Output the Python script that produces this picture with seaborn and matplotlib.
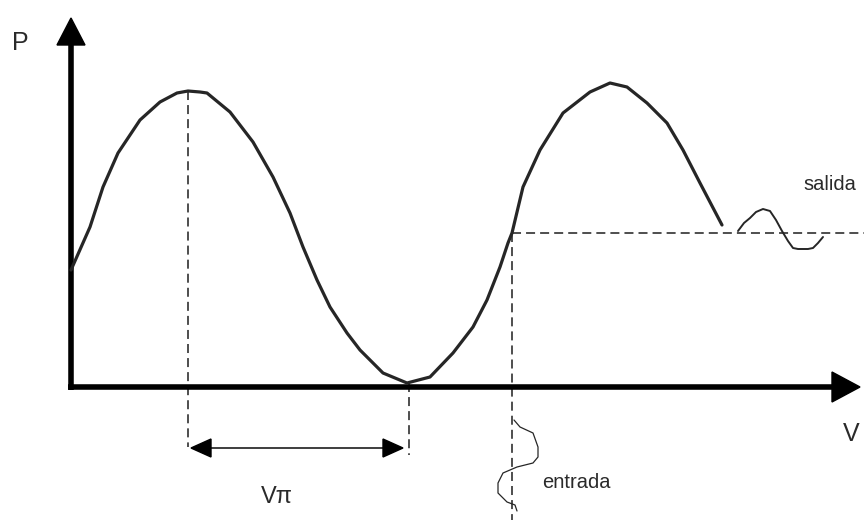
import matplotlib
matplotlib.use("Agg")
import matplotlib.pyplot as plt
from matplotlib.patches import Polygon
import seaborn as sns

# Transfer curve P(V) of the modulator (arbitrary units)
curve_v = [0, 19, 32, 47, 69, 89, 106, 117, 129, 136, 159, 182, 202, 219, 232,
           246, 259, 276, 289, 312, 336, 359, 382, 402, 416, 429, 437, 441, 452,
           469, 492, 519, 539, 556, 576, 596, 612, 629, 651]
curve_p = [117, 160, 200, 234, 267, 285, 294, 296, 295, 294, 275, 245, 210, 174,
           140, 107, 80, 54, 37, 14, 4, 10, 34, 60, 87, 120, 144, 154, 200, 237,
           274, 295, 304, 300, 284, 264, 237, 204, 162]

# Key voltages: maximum, minimum and bias point
v_max, p_max = 117, 296
v_min, p_min = 338, 4
v_bias, p_bias = 441, 154

# Output signal (salida) riding on the bias level
out_t = [667, 673, 679, 685, 692, 699, 705, 711, 717, 722, 727, 737, 742, 747, 752]
out_p = [156, 164, 169, 175, 178, 176, 167, 156, 146, 139, 138, 138, 139, 144, 150]

# Input signal (entrada) drawn along the voltage direction below the axis
in_v = [443, 449, 462, 467, 467, 462, 446, 432, 427, 427, 436, 444, 446]
in_t = [-33, -40, -46, -60, -70, -76, -80, -86, -96, -106, -115, -118, -124]

sns.set_theme(style="white")
plt.rcParams["font.family"] = ["Liberation Sans", "DejaVu Sans"]

fig = plt.figure(figsize=(8.64, 5.2), dpi=100)
ax = fig.add_axes([0, 0, 1, 1])
ax.set_xlim(-71, 793)
ax.set_ylim(-133, 387)
ax.axis("off")

ink = "#1e1e1e"
dash = (0, (5.9, 3.3))

# Axes with filled arrow heads
ax.plot([0, 0], [-3, 345], color="black", lw=4.0, solid_capstyle="butt", zorder=3)
ax.plot([-3, 763], [0, 0], color="black", lw=4.0, solid_capstyle="butt", zorder=3)
ax.add_patch(Polygon([[0, 369], [-14, 342], [14, 342]], closed=True,
                     color="black", zorder=4))
ax.add_patch(Polygon([[789, 0], [761, 15], [761, -15]], closed=True,
                     color="black", zorder=4))

# Transfer curve
sns.lineplot(x=curve_v, y=curve_p, ax=ax, sort=False, estimator=None,
             color="#262626", lw=2.3, zorder=5)

# Dashed guides
ax.plot([v_max, v_max], [p_max, -60], color=ink, lw=1.1, ls=dash, zorder=2)
ax.plot([v_min, v_min], [p_min, -68], color=ink, lw=1.1, ls=dash, zorder=2)
ax.plot([v_bias, v_bias], [p_bias, -133], color=ink, lw=1.1, ls=dash, zorder=2)
ax.plot([v_bias, 793], [p_bias, p_bias], color=ink, lw=1.1, ls=dash, zorder=2)

# V-pi double arrow
y_arr = -61
ax.plot([v_max + 16, v_min - 20], [y_arr, y_arr], color=ink, lw=1.2, zorder=3)
ax.add_patch(Polygon([[v_max + 3, y_arr], [v_max + 23, y_arr + 9],
                      [v_max + 23, y_arr - 9]], closed=True, color="black", zorder=4))
ax.add_patch(Polygon([[v_min - 6, y_arr], [v_min - 26, y_arr + 9],
                      [v_min - 26, y_arr - 9]], closed=True, color="black", zorder=4))

# Input and output signals
sns.lineplot(x=out_t, y=out_p, ax=ax, sort=False, estimator=None,
             color="#262626", lw=1.4, zorder=5)
sns.lineplot(x=in_v, y=in_t, ax=ax, sort=False, estimator=None,
             color="#262626", lw=0.9, zorder=5)

# Labels
txt = "#2a2a2a"
ax.text(-51, 344, "P", fontsize=18, color=txt, ha="center", va="center")
ax.text(780, -47, "V", fontsize=18, color=txt, ha="center", va="center")
ax.text(206, -110, "V\u03c0", fontsize=17, color=txt, ha="center", va="center")
ax.text(471, -95, "entrada", fontsize=14.5, color=txt, ha="left", va="center")
ax.text(732, 203, "salida", fontsize=14.5, color=txt, ha="left", va="center")

fig.savefig("out.png", dpi=100, facecolor="white")
